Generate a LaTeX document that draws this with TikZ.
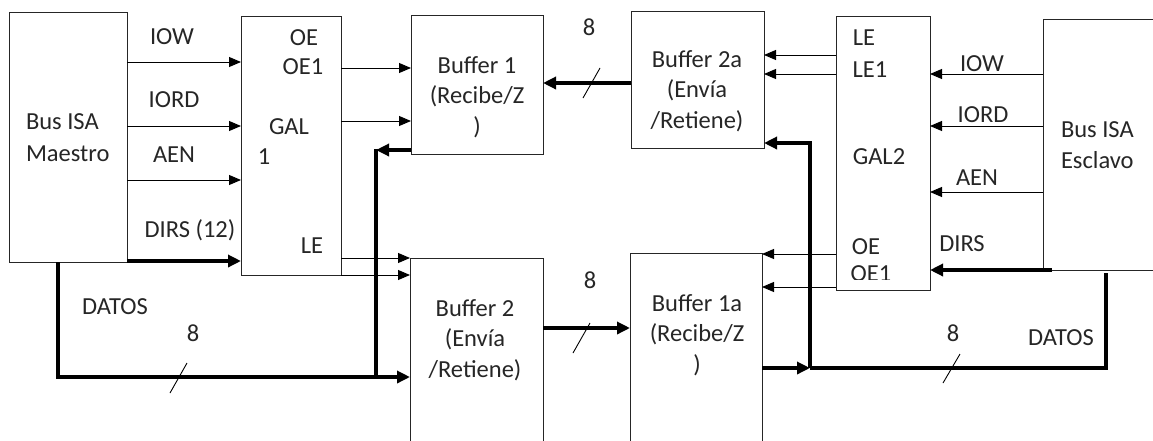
\documentclass[tikz,border=0pt]{standalone}
\usepackage{fontspec}
\setmainfont{Carlito}
\usetikzlibrary{arrows.meta,positioning}
\begin{document}
\begin{tikzpicture}[x=1pt, y=-1pt,
  every node/.style={font={\fontsize{24.5}{30.5}\selectfont}, text=black!85, inner sep=0pt, outer sep=0pt, align=center},
  box/.style={draw=black!85, line width=1pt, rectangle, anchor=north west},
  sig/.style={draw=black, line width=.9pt, -{Triangle[length=12pt,width=10pt]}},
  bus/.style={draw=black, line width=3.4pt, -{Triangle[length=13pt,width=12pt]}},
  slash/.style={draw=black, line width=.9pt}]
\clip (0,0) rectangle (1153,440);
\fill[white] (0,0) rectangle (1153,440);
\node[box, minimum width=118pt, minimum height=250pt] (maestro) at (9,12) {};
\node[box, minimum width=100pt, minimum height=259pt] (gal1) at (241,16) {};
\node[box, minimum width=132pt, minimum height=139pt] (buf1) at (411,15) {};
\node[box, minimum width=133pt, minimum height=137pt] (buf2a) at (631,11) {};
\node[box, minimum width=133pt, minimum height=200pt] (buf2) at (410,258) {};
\node[box, minimum width=132pt, minimum height=205pt] (buf1a) at (630,253) {};
\node[box, minimum width=94pt, minimum height=274pt] (gal2) at (836,16) {};
\node[box, minimum width=130pt, minimum height=251pt] (esclavo) at (1043,19) {};
\node[anchor=west, align=left] (tmaestro) at (26,138) {Bus ISA\\[1.5pt]Maestro};
\node[anchor=west, align=left] (tesclavo) at (1061,145) {Bus ISA\\Esclavo};
\node (tbuf1) at (477,97) {Buffer 1\\(Recibe/Z\\)};
\node (tbuf2a) at (697,91) {Buffer 2a\\(Envía\\/Retiene)};
\node (tbuf2) at (475,340) {Buffer 2\\(Envía\\/Retiene)};
\node (tbuf1a) at (697,335) {Buffer 1a\\(Recibe/Z\\)};
\node (iow1) at (172,37) {IOW};
\node (iord1) at (174,100) {IORD};
\node (aen1) at (174,155) {AEN};
\node (dirs1) at (190,230) {DIRS (12)};
\node (oe1) at (304,38) {OE};
\node (oeb1) at (303,67) {OE1};
\node (gal1a) at (289,127) {GAL};
\node (gal1b) at (264,157) {1};
\node (le1) at (312,246) {LE};
\node (datos1) at (115,307) {DATOS};
\node (ocho1) at (193,333) {8};
\node (ocho2) at (589,27) {8};
\node (ocho3) at (590,280) {8};
\node (le2) at (864,38) {LE};
\node (leb2) at (870,70) {LE1};
\node (gal2a) at (879,157) {GAL2};
\node (oe2) at (866,247) {OE};
\begin{scope}
\clip (836,16) rectangle (930,279);
\node (oeb2) at (871,273.5) {OE1};
\end{scope}
\node (iow2) at (982,64) {IOW};
\node (iord2) at (983,115) {IORD};
\node (aen2) at (977,178) {AEN};
\node (dirs2) at (962,244) {DIRS};
\node (ocho4) at (953,333) {8};
\node (datos2) at (1061,338) {DATOS};
\coordinate (dm) at (58,377);
\coordinate (jm) at (376,377);
\coordinate (js) at (810,368);
\coordinate (ds) at (1106,368);
\draw[sig] (maestro.east |- 0,62) -- (gal1.west |- 0,62);
\draw[sig] (maestro.east |- 0,126) -- (gal1.west |- 0,126);
\draw[sig] (maestro.east |- 0,180) -- (gal1.west |- 0,180);
\draw[bus] (maestro.east |- 0,261) -- (gal1.west |- 0,261);
\draw[sig] (gal1.east |- 0,68) -- (buf1.west |- 0,68);
\draw[sig] (gal1.east |- 0,121) -- (buf1.west |- 0,121);
\draw[sig] (gal1.east |- 0,258) -- (buf2.west |- 0,258);
\draw[sig] (gal1.east |- 0,275) -- (buf2.west |- 0,275);
\draw[bus] (buf1.west |- 0,150) -- (jm |- 0,150);
\draw[bus, -] (jm |- 0,148.5) -- (jm);
\draw[bus] (maestro.south -| dm) -- (dm) -- (buf2.west |- dm);
\draw[slash] (170,393) -- (187,363);
\draw[bus] (buf2a.west |- 0,83) -- (buf1.east |- 0,83);
\draw[slash] (583,98) -- (600,68);
\draw[bus] (buf2.east |- 0,328) -- (buf1a.west |- 0,328);
\draw[slash] (573,353) -- (590,323);
\draw[sig] (gal2.west |- 0,55) -- (buf2a.east |- 0,55);
\draw[sig] (gal2.west |- 0,74) -- (buf2a.east |- 0,74);
\draw[sig] (gal2.west |- 0,254) -- (buf1a.east |- 0,254);
\draw[sig] (gal2.west |- 0,287) -- (buf1a.east |- 0,287);
\draw[sig] (esclavo.west |- 0,74) -- (gal2.east |- 0,74);
\draw[sig] (esclavo.west |- 0,126) -- (gal2.east |- 0,126);
\draw[sig] (esclavo.west |- 0,192) -- (gal2.east |- 0,192);
\draw[bus] ([xshift=9pt]esclavo.south west) -- (gal2.east |- esclavo.south west);
\draw[bus] (buf1a.east |- js) -- (js);
\draw[bus] (js) -- (js |- 0,143) -- (buf2a.east |- 0,143);
\draw[bus, -] (js) -- (ds) -- (ds |- 0,273);
\draw[slash] (943,383) -- (960,354);
\end{tikzpicture}
\end{document}
